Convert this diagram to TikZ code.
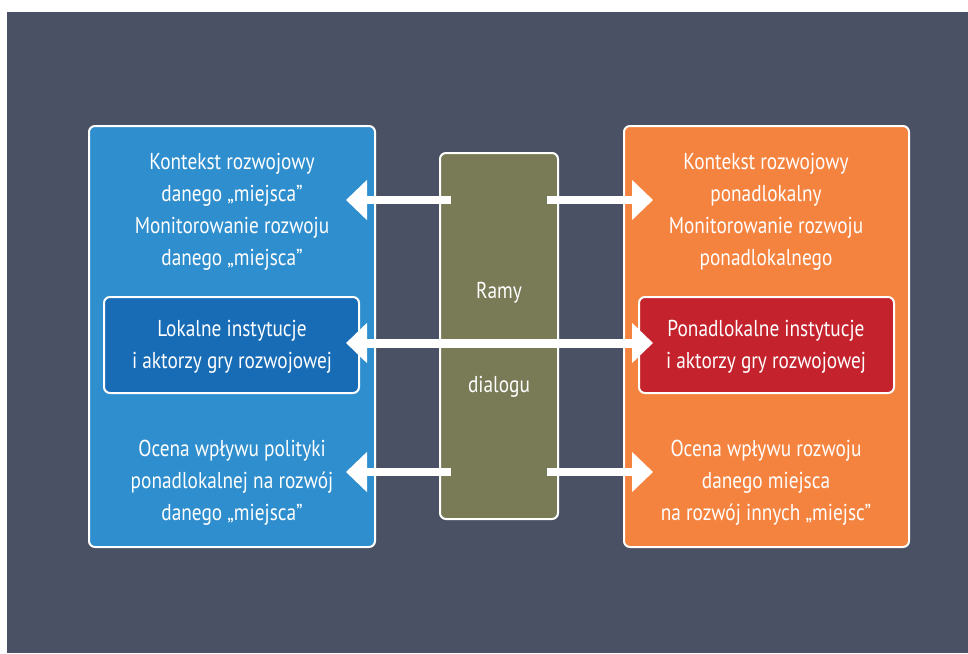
\documentclass[tikz,border=0pt]{standalone}
\usepackage{fontspec}
\setmainfont{PT Sans}[FakeStretch=0.84]
\usetikzlibrary{arrows.meta}
\definecolor{bgslate}{RGB}{74,81,100}
\definecolor{boxblue}{RGB}{47,142,205}
\definecolor{innerblue}{RGB}{24,108,182}
\definecolor{boxorange}{RGB}{245,131,64}
\definecolor{innerred}{RGB}{196,35,46}
\definecolor{olive}{RGB}{121,122,86}
\tikzset{
  panel/.style={draw=white, line width=2pt, rounded corners=6pt},
  txt/.style={text=white, align=center, font=\fontsize{23}{32}\selectfont, inner sep=0pt},
  flow/.style={white, line width=8pt, -{Triangle[length=21pt,width=39pt]}},
  bothflow/.style={white, line width=9pt, {Triangle[length=21pt,width=39pt]}-{Triangle[length=21pt,width=39pt]}}
}
\begin{document}
\begin{tikzpicture}[x=1pt,y=-1pt]
  \useasboundingbox (0,0) rectangle (968,653);
  \fill[white] (0,0) rectangle (968,653);
  \fill[bgslate] (7,12) rectangle (968,653);

  % outer panels
  \draw[panel, fill=boxblue] (89,126) rectangle (375,547);
  \draw[panel, fill=boxorange] (624,126) rectangle (909,547);
  % central frame
  \draw[panel, fill=olive] (440,153) rectangle (558,519);
  % inner institution boxes
  \draw[panel, fill=innerblue] (104,297) rectangle (359,393);
  \draw[panel, fill=innerred] (639,297) rectangle (894,393);

  % texts
  \node[txt] (lctx) at (232,212) {Kontekst rozwojowy\\danego „miejsca”\\Monitorowanie rozwoju\\danego „miejsca”};
  \node[txt] (linst) at (232,347) {Lokalne instytucje\\i aktorzy gry rozwojowej};
  \node[txt] (leval) at (232,483) {Ocena wpływu polityki\\ponadlokalnej na rozwój\\danego „miejsca”};
  \node[txt] (rctx) at (766,212) {Kontekst rozwojowy\\ponadlokalny\\Monitorowanie rozwoju\\ponadlokalnego};
  \node[txt] (rinst) at (766,347) {Ponadlokalne instytucje\\i aktorzy gry rozwojowej};
  \node[txt] (reval) at (766,483) {Ocena wpływu rozwoju\\danego miejsca\\na rozwój innych „miejsc”};
  \node[txt] (ramy) at (499,293) {Ramy};
  \node[txt] (dial) at (499,387) {dialogu};

  % arrow ends
  \coordinate (tls) at (451,200);
  \coordinate (tle) at (346,200);
  \coordinate (trs) at (547,200);
  \coordinate (tre) at (653,200);
  \coordinate (bls) at (451,472);
  \coordinate (ble) at (346,472);
  \coordinate (brs) at (547,472);
  \coordinate (bre) at (653,472);
  \coordinate (ml) at (346,343);
  \coordinate (mr) at (653,343);

  \draw[flow] (tls) -- (tle);
  \draw[flow] (trs) -- (tre);
  \draw[flow] (bls) -- (ble);
  \draw[flow] (brs) -- (bre);
  \draw[bothflow] (ml) -- (mr);
\end{tikzpicture}
\end{document}
